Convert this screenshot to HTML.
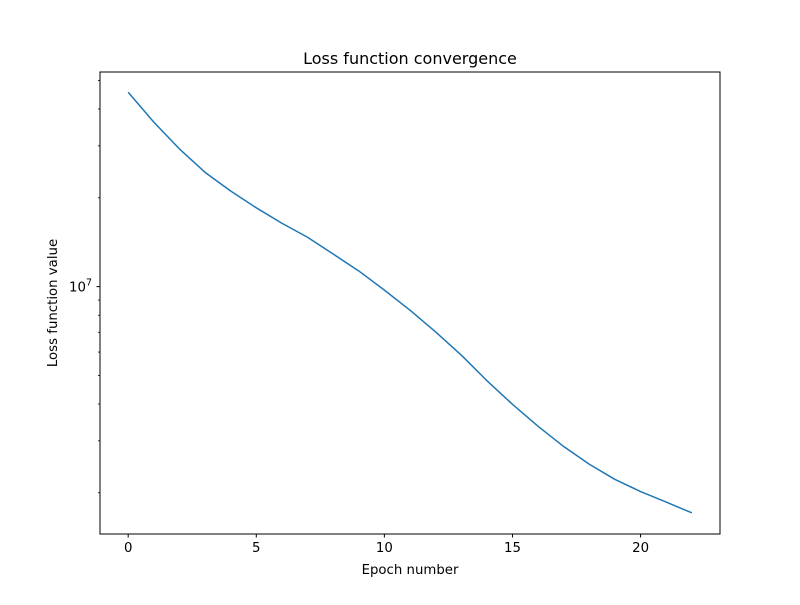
<!DOCTYPE html>
<html><head><meta charset="utf-8"><style>
body{margin:0;background:#fff}
svg{font-family:"DejaVu Sans","Liberation Sans",sans-serif}
</style></head><body>
<svg id="chart" width="800" height="600" xmlns="http://www.w3.org/2000/svg">
<rect width="800" height="600" fill="#fff"/>
<text x="410" y="64" font-size="16" text-anchor="middle">Loss function convergence</text>
<text x="410" y="574" font-size="13.3" text-anchor="middle">Epoch number</text>
<text transform="translate(57,303) rotate(-90)" font-size="13.3" text-anchor="middle">Loss function value</text>
<g id="xt"></g><g id="yt"></g>
<polyline id="line" fill="none" stroke="#1f77b4" stroke-width="1.5" stroke-linejoin="round"/>
<rect x="100" y="72" width="620" height="462" fill="none" stroke="#000" stroke-width="1"/>
</svg>
<script>
const epochs=[0,1,2,3,4,5,6,7,8,9,10,11,12,13,14,15,16,17,18,19,20,21,22];
const losses=[4.56e7,3.61e7,2.93e7,2.44e7,2.11e7,1.85e7,1.64e7,1.47e7,1.29e7,1.13e7,9.73e6,8.32e6,7.02e6,5.86e6,4.80e6,3.99e6,3.36e6,2.87e6,2.50e6,2.22e6,2.02e6,1.86e6,1.71e6];
const xTicks=[0,5,10,15,20];
const yMinorTicks=[2e6,3e6,4e6,5e6,6e6,7e6,8e6,9e6,2e7,3e7,4e7,5e7];
const yMajorTicks=[1e7];
const NS="http://www.w3.org/2000/svg";
const L=100,R=720,T=72,B=534;
const xMin=-1.1,xMax=23.1;
const logMin=Math.log10(1.45e6),logMax=Math.log10(5.34e7);
const xs=v=>L+(v-xMin)/(xMax-xMin)*(R-L);
const ys=v=>B-(Math.log10(v)-logMin)/(logMax-logMin)*(B-T);
function mk(tag,attrs,parent){const e=document.createElementNS(NS,tag);for(const k in attrs)e.setAttribute(k,attrs[k]);parent.appendChild(e);return e;}
const xt=document.getElementById('xt'),yt=document.getElementById('yt');
xTicks.forEach(t=>{
  const l=mk('line',{x1:xs(t),x2:xs(t),y1:B,y2:B+3.5,stroke:'#000'},xt);
  
  
  const tx=mk('text',{x:xs(t),y:B+18,'font-size':'13.3','text-anchor':'middle'},xt);
  tx.textContent=t;
  
  
});
yMinorTicks.forEach(t=>{
  const l=mk('line',{x1:L-2,x2:L,y1:ys(t),y2:ys(t),stroke:'#000','stroke-width':'0.8'},yt);
  
  
});
yMajorTicks.forEach(t=>{
  const l=mk('line',{x1:L-3.5,x2:L,y1:ys(t),y2:ys(t),stroke:'#000'},yt);
  
  
  const tx=mk('text',{x:L-8,y:ys(t)+5,'font-size':'13.3','text-anchor':'end'},yt);
  const e=Math.round(Math.log10(t));
  tx.innerHTML='10<tspan font-size="9.5" dy="-6">'+e+'</tspan>';
  
  
});
document.getElementById('line').setAttribute('points',epochs.map((e,i)=>xs(e)+','+ys(losses[i])).join(' '));
</script>
</body></html>
